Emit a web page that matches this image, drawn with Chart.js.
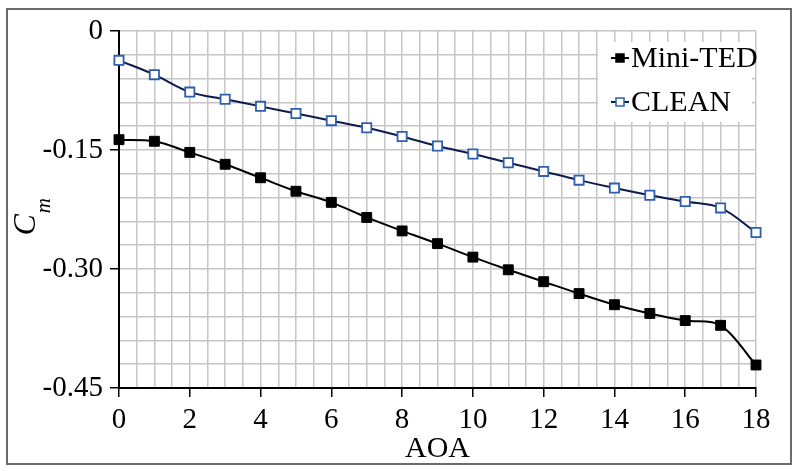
<!DOCTYPE html>
<html>
<head>
<meta charset="utf-8">
<script src="https://cdn.jsdelivr.net/npm/chart.js@4.4.1/dist/chart.umd.min.js"></script>
<style>
  html, body { margin: 0; padding: 0; background: #fff; }
  #wrap { width: 800px; height: 471px; position: relative; }
</style>
</head>
<body>
<div id="wrap"><canvas id="c" width="800" height="471"></canvas></div>
<script>
// ---- data ----
const aoa = [0, 1, 2, 3, 4, 5, 6, 7, 8, 9, 10, 11, 12, 13, 14, 15, 16, 17, 18];
const miniTED = [-0.137, -0.139, -0.153, -0.168, -0.185, -0.202, -0.216, -0.235, -0.252, -0.268, -0.285, -0.301, -0.316, -0.331, -0.345, -0.356, -0.365, -0.371, -0.421];
const clean = [-0.037, -0.055, -0.077, -0.086, -0.095, -0.104, -0.113, -0.122, -0.133, -0.145, -0.155, -0.166, -0.177, -0.188, -0.198, -0.207, -0.215, -0.223, -0.254];
const seriesNames = ['Mini-TED', 'CLEAN'];
const yTickLabels = ['0', '-0.15', '-0.30', '-0.45'];
const xTitle = 'AOA';
const yTitleMain = 'C';
const yTitleSub = 'm';

const SERIF = '"Liberation Serif", "Times New Roman", serif';

function isMajorY(v) { const r = v / 0.15; return Math.abs(r - Math.round(r)) < 1e-6; }
function isMajorX(v) { return Math.abs(v / 2 - Math.round(v / 2)) < 1e-6; }

const frame = {
  id: 'frame',
  beforeDraw(chart) {
    const ctx = chart.ctx;
    ctx.save();
    ctx.fillStyle = '#fff';
    ctx.fillRect(0, 0, chart.width, chart.height);
    ctx.strokeStyle = '#6b6b6b';
    ctx.lineWidth = 2;
    ctx.strokeRect(7, 9, 784, 455);
    ctx.restore();
  }
};

const yTitle = {
  id: 'yTitle',
  afterDraw(chart) {
    const ctx = chart.ctx;
    const ca = chart.chartArea;
    const cy = (ca.top + ca.bottom) / 2;
    ctx.save();
    ctx.translate(35, cy + 26);
    ctx.rotate(-Math.PI / 2);
    ctx.fillStyle = '#000';
    ctx.textBaseline = 'alphabetic';
    ctx.textAlign = 'left';
    ctx.font = 'italic 32px ' + SERIF;
    ctx.fillText(yTitleMain, 0, 0);
    const w = ctx.measureText(yTitleMain).width;
    ctx.font = 'italic 21px ' + SERIF;
    ctx.fillText(yTitleSub, w + 1, 15);
    ctx.restore();
  }
};

const boxLegend = {
  id: 'boxLegend',
  afterDatasetsDraw(chart) {
    const ctx = chart.ctx;
    const ca = chart.chartArea;
    const x0 = ca.right - 158, y0 = ca.top + 11, w = 154, h = 80;
    ctx.save();
    ctx.fillStyle = '#fff';
    ctx.fillRect(x0, y0, w, h);
    chart.data.datasets.forEach((ds, i) => {
      const yy = y0 + 16 + i * 44;
      const lx = x0 + 13;
      ctx.strokeStyle = ds.borderColor;
      ctx.lineWidth = 2;
      ctx.beginPath();
      ctx.moveTo(lx, yy);
      ctx.lineTo(lx + 18, yy);
      ctx.stroke();
      const s = 8;
      ctx.fillStyle = ds.pointBackgroundColor;
      ctx.fillRect(lx + 9 - s / 2, yy - s / 2, s, s);
      ctx.strokeStyle = ds.pointBorderColor;
      ctx.lineWidth = 1.5;
      ctx.strokeRect(lx + 9 - s / 2, yy - s / 2, s, s);
      ctx.fillStyle = '#000';
      ctx.font = '30px ' + SERIF;
      ctx.textBaseline = 'middle';
      ctx.textAlign = 'left';
      ctx.fillText(ds.label, lx + 20, yy + 1);
    });
    ctx.restore();
  }
};

new Chart(document.getElementById('c'), {
  type: 'line',
  data: {
    labels: aoa,
    datasets: [
      {
        label: seriesNames[0],
        data: aoa.map((x, i) => ({ x, y: miniTED[i] })),
        borderColor: '#000000',
        backgroundColor: '#000000',
        pointBackgroundColor: '#000000',
        pointBorderColor: '#000000',
        pointStyle: 'rect',
        pointRadius: 7,
        pointBorderWidth: 1,
        borderWidth: 2,
        tension: 0.33,
        clip: false
      },
      {
        label: seriesNames[1],
        data: aoa.map((x, i) => ({ x, y: clean[i] })),
        borderColor: '#0d1a4d',
        backgroundColor: '#ffffff',
        pointBackgroundColor: '#ffffff',
        pointBorderColor: '#2f5fae',
        pointStyle: 'rect',
        pointRadius: 6.5,
        pointBorderWidth: 1.8,
        borderWidth: 2,
        tension: 0.33,
        clip: false
      }
    ]
  },
  options: {
    responsive: false,
    animation: false,
    devicePixelRatio: 1,
    layout: { padding: { left: 0, top: 31, right: 44, bottom: 0 } },
    plugins: { legend: { display: false }, tooltip: { enabled: false } },
    elements: { point: { hoverRadius: 6 } },
    scales: {
      x: {
        type: 'linear',
        min: 0, max: 18,
        afterFit(s) { s.height = 83; },
        ticks: {
          stepSize: 0.5,
          autoSkip: false,
          maxRotation: 0,
          padding: 6,
          color: '#000',
          font: { family: SERIF, size: 29 },
          callback(v) { return isMajorX(v) ? String(Math.round(v)) : ''; }
        },
        grid: {
          color: '#c6c6c6',
          lineWidth: 1.5,
          tickLength: 9,
          tickColor(c) { return c.tick && isMajorX(c.tick.value) ? '#000' : 'rgba(0,0,0,0)'; },
          tickWidth: 1.5
        },
        border: { color: '#000', width: 2 },
        title: {
          display: true,
          text: xTitle,
          color: '#000',
          font: { family: SERIF, size: 30 },
          padding: { top: 0, bottom: 4 }
        }
      },
      y: {
        type: 'linear',
        min: -0.45, max: 0,
        afterFit(s) { s.width = 119; },
        ticks: {
          stepSize: 0.03,
          autoSkip: false,
          padding: 7,
          color: '#000',
          font: { family: SERIF, size: 29 },
          callback(v) {
            if (!isMajorY(v)) return '';
            const k = Math.round(-v / 0.15);
            return yTickLabels[k];
          }
        },
        grid: {
          color: '#c6c6c6',
          lineWidth: 1.5,
          tickLength: 9,
          tickColor(c) { return c.tick && isMajorY(c.tick.value) ? '#000' : 'rgba(0,0,0,0)'; },
          tickWidth: 1.5
        },
        border: { color: '#000', width: 2 }
      }
    }
  },
  plugins: [frame, yTitle, boxLegend]
});
</script>
</body>
</html>
